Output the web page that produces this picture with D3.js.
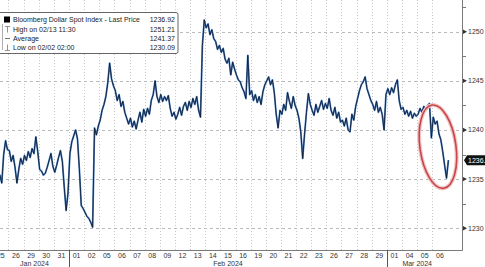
<!DOCTYPE html>
<html>
<head>
<meta charset="utf-8">
<script src="https://cdn.jsdelivr.net/npm/d3@7"></script>
<style>
    html, body { margin: 0; padding: 0; background: #fff; }
    svg { display: block; font-family: "Liberation Sans", Arial, sans-serif; }
</style>
</head>
<body>
<div id="chart"></div>
<script>
// Trading day labels along the bottom (Jan 25 .. Mar 06, 2024).
var dayLabels = ["25", "26", "29", "30", "31",
    "01", "02", "05", "06", "07", "08", "09", "12", "13", "14", "15", "16",
    "19", "20", "21", "22", "23", "26", "27", "28", "29",
    "01", "04", "05", "06"];

var monthNames = ["Jan 2024", "Feb 2024", "Mar 2024"];
var monthFirstDay = [0, 5, 26];
var monthLastDay = [4, 25, 29];

// Intraday readings, one list per trading day (evenly spaced within the day).
var dayValues = [
    [1236.8, 1236.2, 1235.6, 1235.4, 1234.6, 1237.5, 1238.9, 1238.0],
    [1237.9, 1236.8, 1237.4, 1236.2, 1234.6, 1236.0, 1237.1, 1236.5],
    [1237.4, 1236.9, 1237.8, 1237.2, 1238.1, 1237.6, 1239.3, 1237.8],
    [1236.0, 1235.8, 1235.4, 1235.6, 1236.2, 1236.9, 1237.6, 1236.3],
    [1235.7, 1236.4, 1237.2, 1237.9, 1236.8, 1234.2, 1231.8, 1233.6],
    [1237.6, 1238.8, 1239.4, 1240.0, 1239.1, 1236.0, 1232.3, 1232.0],
    [1231.6, 1231.2, 1231.0, 1230.6, 1230.1, 1240.2, 1239.5, 1240.4],
    [1241.0, 1242.0, 1242.6, 1243.4, 1244.8, 1246.8, 1245.2, 1244.5],
    [1244.0, 1243.0, 1243.6, 1242.4, 1242.9, 1241.8, 1241.2, 1240.6],
    [1241.2, 1240.3, 1240.9, 1240.1, 1241.0, 1241.8, 1240.8, 1242.1],
    [1241.4, 1242.2, 1241.6, 1243.0, 1243.6, 1245.0, 1243.4, 1242.8],
    [1243.6, 1242.9, 1243.4, 1243.0, 1243.5, 1242.2, 1241.4, 1241.8],
    [1241.1, 1241.6, 1242.3, 1241.5, 1242.4, 1242.8, 1242.0, 1242.9],
    [1242.3, 1243.2, 1242.6, 1243.4, 1242.0, 1241.3, 1248.6, 1251.2],
    [1250.4, 1250.8, 1249.7, 1250.2, 1249.3, 1249.0, 1248.2, 1248.6],
    [1247.9, 1248.3, 1247.2, 1246.8, 1247.3, 1245.6, 1246.9, 1246.2],
    [1245.6, 1245.1, 1244.9, 1244.3, 1243.9, 1243.2, 1247.6, 1243.6],
    [1244.0, 1243.0, 1243.6, 1242.8, 1243.4, 1242.6, 1243.9, 1244.6],
    [1245.0, 1245.4, 1244.6, 1245.1, 1243.8, 1241.6, 1240.2, 1242.0],
    [1241.6, 1242.6, 1242.0, 1243.8, 1242.9, 1242.2, 1243.4, 1242.5],
    [1242.0, 1241.2, 1239.8, 1237.1, 1239.6, 1241.8, 1243.7, 1242.6],
    [1242.0, 1241.5, 1242.6, 1241.8, 1242.4, 1243.0, 1242.1, 1242.7],
    [1242.2, 1243.2, 1242.0, 1241.5, 1242.3, 1241.2, 1241.8, 1240.8],
    [1241.0, 1240.4, 1241.2, 1240.0, 1239.8, 1241.6, 1241.0, 1242.4],
    [1243.2, 1244.0, 1244.6, 1244.9, 1245.4, 1244.2, 1243.6, 1243.0],
    [1242.6, 1242.0, 1242.9, 1241.8, 1242.3, 1241.6, 1240.0, 1243.6],
    [1244.2, 1243.6, 1244.3, 1243.8, 1244.6, 1245.1, 1243.0, 1242.1],
    [1242.3, 1241.6, 1242.0, 1241.4, 1241.9, 1241.2, 1241.7, 1241.4],
    [1241.6, 1242.2, 1241.8, 1242.4, 1242.0, 1242.5, 1242.7, 1239.2],
    [1241.3, 1240.6, 1240.9, 1239.6, 1239.0, 1237.8, 1236.4, 1235.1, 1236.92]
];
var stepsPerDay = 8;

var yTicks = [1230, 1235, 1240, 1245, 1250];
var yMinorTicks = [1232.5, 1237.5, 1242.5, 1247.5, 1252.5];

var legendNames = ["Bloomberg Dollar Spot Index - Last Price", "High on 02/13 11:30", "Average", "Low on 02/02 02:00"];
var legendValues = ["1236.92", "1251.21", "1241.37", "1230.09"];
var lastPrice = 1236.92;

// Highlighted area (day position, value) for the red ring.
var ringCenter = [29.37, 1238.3];

var width = 485, height = 267;
var plotRight = 462, plotBottom = 250;

var svg = d3.select("#chart").append("svg")
    .attr("width", width)
    .attr("height", height);

var x = d3.scaleLinear().domain([0.445, 30.96]).range([0, plotRight]);
var y = d3.scaleLinear().domain([1227.78, 1253.23]).range([plotBottom, 0]);

// Flatten the day lists into points.
var points = [];
dayValues.forEach(function(vals, i) {
    vals.forEach(function(v, j) {
        points.push({ t: i + (j + 0.5) / stepsPerDay, v: v });
    });
});

svg.append("clipPath").attr("id", "plot-clip")
    .append("rect").attr("x", 0).attr("y", 0).attr("width", plotRight).attr("height", plotBottom);

// Grid.
var grid = svg.append("g");
grid.selectAll(".hgrid").data(yTicks).enter()
    .append("line")
    .attr("x1", 0).attr("x2", plotRight)
    .attr("y1", d => Math.round(y(d)) + 0.5).attr("y2", d => Math.round(y(d)) + 0.5)
    .attr("stroke", "#a8a8a8").attr("stroke-width", 0.8)
    .attr("stroke-dasharray", "3,3");

grid.selectAll(".vgrid").data(d3.range(1, 30)).enter()
    .append("line")
    .attr("x1", d => Math.round(x(d)) + 0.5).attr("x2", d => Math.round(x(d)) + 0.5)
    .attr("y1", 0).attr("y2", plotBottom)
    .attr("stroke", "#b8b8b8").attr("stroke-width", 0.8)
    .attr("stroke-dasharray", "1,2");

// Price line: blue underlay with a dark line on top.
var line = d3.line().x(d => x(d.t)).y(d => y(d.v));
var lines = svg.append("g").attr("clip-path", "url(#plot-clip)");
lines.append("path").datum(points)
    .attr("d", line)
    .attr("fill", "none")
    .attr("stroke", "#4a80c2")
    .attr("stroke-width", 1.8)
    .attr("stroke-linejoin", "round");
lines.append("path").datum(points)
    .attr("d", line)
    .attr("fill", "none")
    .attr("stroke", "#0a1226")
    .attr("stroke-width", 0.8)
    .attr("stroke-linejoin", "round");

// Red ring around the recent drop.
var ring = svg.append("g")
    .attr("transform", "translate(" + x(ringCenter[0]) + "," + y(ringCenter[1]) + ") rotate(-8)");
ring.append("ellipse").attr("rx", 18).attr("ry", 42)
    .attr("fill", "none").attr("stroke", "#f0c6c6").attr("stroke-width", 4);
ring.append("ellipse").attr("rx", 18).attr("ry", 42)
    .attr("fill", "none").attr("stroke", "#c9464b").attr("stroke-width", 1.6);

// Axes frame.
svg.append("line").attr("x1", plotRight + 0.5).attr("x2", plotRight + 0.5)
    .attr("y1", 0).attr("y2", plotBottom + 0.5)
    .attr("stroke", "#7a7a7a").attr("stroke-width", 1);
svg.append("line").attr("x1", 0).attr("x2", plotRight + 0.5)
    .attr("y1", plotBottom + 0.5).attr("y2", plotBottom + 0.5)
    .attr("stroke", "#7a7a7a").attr("stroke-width", 1);

// Right axis: minor ticks, arrow markers and labels.
var yAxis = svg.append("g");
yAxis.selectAll(".minor").data(yMinorTicks).enter()
    .append("line")
    .attr("x1", plotRight).attr("x2", plotRight + 4)
    .attr("y1", d => Math.round(y(d)) + 0.5).attr("y2", d => Math.round(y(d)) + 0.5)
    .attr("stroke", "#7a7a7a");
yAxis.selectAll(".marker").data(yTicks).enter()
    .append("path")
    .attr("d", d => "M" + (plotRight + 1) + "," + (y(d) - 2.2) + "L" + (plotRight + 5) + "," + y(d) + "L" + (plotRight + 1) + "," + (y(d) + 2.2) + "Z")
    .attr("fill", "#333");
yAxis.selectAll(".label").data(yTicks).enter()
    .append("text")
    .attr("x", plotRight + 6).attr("y", d => y(d))
    .attr("dy", "0.35em")
    .attr("font-size", "7px").attr("fill", "#333")
    .text(d => d);

// Last price tag.
var tag = svg.append("g").attr("transform", "translate(" + (plotRight + 2) + "," + y(lastPrice) + ")");
tag.append("path").attr("d", "M0,0L3,-5H30V5H3Z").attr("fill", "#111");
tag.append("text").attr("x", 4).attr("dy", "0.35em")
    .attr("font-size", "7px").attr("fill", "#fff")
    .text(lastPrice.toFixed(2));

// Bottom axis: day labels, month dividers and month labels.
var xAxis = svg.append("g");
xAxis.selectAll(".day").data(dayLabels).enter()
    .append("text")
    .attr("x", (d, i) => x(i + 0.5)).attr("y", 257.5)
    .attr("text-anchor", "middle")
    .attr("font-size", "7px").attr("fill", "#333")
    .text(d => d);
xAxis.selectAll(".divider").data(monthFirstDay.slice(1)).enter()
    .append("line")
    .attr("x1", d => Math.round(x(d)) + 0.5).attr("x2", d => Math.round(x(d)) + 0.5)
    .attr("y1", plotBottom).attr("y2", height)
    .attr("stroke", "#555").attr("stroke-width", 1);
xAxis.selectAll(".month").data(monthNames).enter()
    .append("text")
    .attr("x", (d, i) => (Math.max(0, x(monthFirstDay[i])) + Math.min(plotRight, x(monthLastDay[i] + 1))) / 2)
    .attr("y", 265.5)
    .attr("text-anchor", "middle")
    .attr("font-size", "7px").attr("fill", "#333")
    .text(d => d);

// Legend box.
var legend = svg.append("g");
legend.append("rect")
    .attr("x", -3).attr("y", 12.5).attr("width", 181).attr("height", 41)
    .attr("rx", 2)
    .attr("fill", "#fff").attr("stroke", "#666").attr("stroke-width", 1);
var rowY = [20, 29.5, 38.5, 47.5];
legend.selectAll(".name").data(legendNames).enter()
    .append("text")
    .attr("x", 13).attr("y", (d, i) => rowY[i])
    .attr("dy", "0.35em")
    .attr("font-size", "7px").attr("fill", "#222")
    .text(d => d);
legend.selectAll(".val").data(legendValues).enter()
    .append("text")
    .attr("x", 175).attr("y", (d, i) => rowY[i])
    .attr("dy", "0.35em")
    .attr("text-anchor", "end")
    .attr("font-size", "7px").attr("fill", "#222")
    .text(d => d);

// Legend icons.
legend.append("rect").attr("x", 4).attr("y", 16.5).attr("width", 6).attr("height", 6).attr("fill", "#000");
legend.append("path").attr("d", "M2.5,24V50").attr("stroke", "#999").attr("stroke-width", 0.8).attr("fill", "none");
legend.append("path").attr("d", "M5,26.5H10M7.5,26.5V32.5").attr("stroke", "#777").attr("stroke-width", 0.8).attr("fill", "none");
legend.append("path").attr("d", "M5,38.5H10").attr("stroke", "#777").attr("stroke-width", 1).attr("fill", "none");
legend.append("path").attr("d", "M5,50.5H10M7.5,44.5V50.5").attr("stroke", "#777").attr("stroke-width", 0.8).attr("fill", "none");
</script>
</body>
</html>
